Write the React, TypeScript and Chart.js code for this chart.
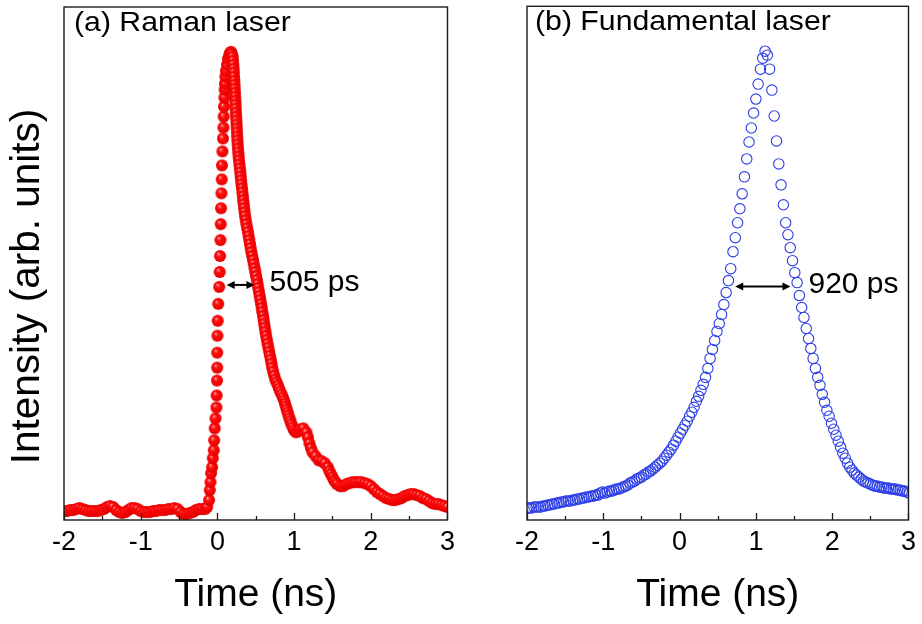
import React, { useEffect, useRef } from "react";
import { Chart, registerables } from "chart.js";

Chart.register(...registerables);

const FONT = "'Liberation Sans', Arial, Helvetica, sans-serif";

// axes
const X_MIN = -2;
const X_MAX = 3;
const Y_MIN = -9;
const Y_MAX = 506;
const majorTicks = [-2, -1, 0, 1, 2, 3];
const minorTicks = [-1.5, -0.5, 0.5, 1.5, 2.5];

// (a) Raman laser — time (ns) and intensity (arb. units)
const ramanBaseTime = [-2.0, -1.96, -1.92, -1.88, -1.84, -1.8, -1.76, -1.72, -1.68, -1.64, -1.6, -1.56, -1.52, -1.48, -1.44, -1.4, -1.36, -1.32, -1.28, -1.24, -1.2, -1.16, -1.12, -1.08, -1.04, -1.0, -0.96, -0.92, -0.88, -0.84, -0.8, -0.76, -0.72, -0.68, -0.64, -0.6, -0.56, -0.52, -0.48, -0.44, -0.4, -0.36, -0.32, -0.28, -0.24, -0.2, -0.16];
const ramanBaseInt = [0, 0, 1, 1, 2, 3, 2, 1, 0, 0, 0, 0, 1, 2, 4, 5, 4, 1, -1, -2, -1, 1, 3, 3, 2, 0, -1, -1, -1, 0, 0, 1, 1, 1, 2, 2, 3, 2, -1, -3, -3, -2, -1, 1, 2, 2, 2];

const ramanRiseTime = [-0.134, -0.108, -0.099, -0.09, -0.082, -0.069, -0.06, -0.047, -0.042, -0.035, -0.025, -0.013, -0.01, -0.005, -0.003, -0.002, 0.0, 0.004, 0.011, 0.024, 0.03, 0.034, 0.039, 0.043, 0.047, 0.052, 0.056, 0.06, 0.065, 0.073, 0.078, 0.082, 0.086, 0.091, 0.095, 0.099, 0.104, 0.112, 0.125, 0.137, 0.156, 0.166, 0.178, 0.188];
const ramanRiseInt = [4, 11, 21, 29, 38, 44, 53, 61, 71, 83, 93, 104, 116, 131, 144, 159, 176, 191, 208, 225, 240, 256, 272, 288, 304, 319, 333, 347, 361, 374, 385, 396, 406, 415, 423, 429, 436, 442, 448, 454, 458, 460, 461, 459];

const ramanFallTime = [0.198, 0.203, 0.207, 0.211, 0.214, 0.216, 0.22, 0.223, 0.225, 0.229, 0.231, 0.234, 0.236, 0.238, 0.241, 0.244, 0.247, 0.25, 0.253, 0.255, 0.258, 0.261, 0.264, 0.268, 0.272, 0.276, 0.281, 0.287, 0.293, 0.298, 0.303, 0.308, 0.313, 0.32, 0.325, 0.332, 0.337, 0.343, 0.348, 0.355, 0.361, 0.369, 0.378, 0.387, 0.398, 0.407, 0.416, 0.425, 0.434, 0.443, 0.453, 0.464, 0.474, 0.484, 0.495, 0.504, 0.514, 0.523, 0.532, 0.541, 0.551, 0.56, 0.569, 0.578, 0.585, 0.595, 0.602, 0.61, 0.618, 0.626, 0.635, 0.644, 0.654, 0.664, 0.675, 0.685, 0.696, 0.705, 0.714, 0.727, 0.741, 0.755, 0.772, 0.789, 0.803, 0.82, 0.837, 0.854, 0.869, 0.881, 0.892, 0.904, 0.916, 0.927, 0.94, 0.953, 0.966, 0.982, 0.999, 1.025];
const ramanFallInt = [456, 452, 448, 444, 440, 436, 432, 428, 424, 420, 416, 412, 408, 404, 400, 396, 392, 388, 384, 380, 376, 372, 368, 364, 360, 356, 352, 348, 344, 340, 336, 332, 328, 324, 320, 316, 312, 308, 304, 300, 296, 292, 288, 284, 280, 276, 272, 268, 264, 260, 256, 252, 248, 244, 240, 236, 232, 228, 224, 220, 216, 212, 208, 204, 200, 196, 192, 188, 184, 180, 176, 172, 168, 164, 160, 156, 152, 148, 144, 140, 136, 132, 129, 126, 123, 120, 117, 114, 111, 108, 105, 102, 99, 96, 93, 90, 87, 84, 81, 79];

const ramanTailTime = [1.051, 1.08, 1.12, 1.16, 1.18, 1.2, 1.22, 1.24, 1.28, 1.32, 1.36, 1.4, 1.44, 1.46, 1.48, 1.5, 1.52, 1.54, 1.56, 1.6, 1.64, 1.68, 1.72, 1.76, 1.8, 1.84, 1.88, 1.92, 1.96, 2.0, 2.04, 2.08, 2.12, 2.16, 2.2, 2.24, 2.28, 2.32, 2.36, 2.4, 2.44, 2.48, 2.52, 2.56, 2.6, 2.64, 2.68, 2.72, 2.76, 2.8, 2.84, 2.88, 2.92, 2.96, 3.0, 3.04];
const ramanTailInt = [80, 82, 83, 79, 74, 68, 63, 59, 55, 51, 50, 48, 44, 40, 37, 34, 31, 29, 27, 25, 25, 27, 28, 29, 29, 29, 29, 28, 27, 25, 22, 19, 17, 15, 13, 12, 11, 11, 12, 13, 15, 16, 17, 17, 16, 15, 13, 12, 10, 8, 7, 7, 6, 5, 4, 3];

// (b) Fundamental laser — sampled every 0.03 ns from -2 ns
const fundStart = -2;
const fundStep = 0.03;
const fundInt = [
  3, 3, 3, 4, 4, 4, 4, 5, 5, 6,
  6, 7, 7, 8, 8, 9, 9, 10, 10, 10,
  11, 11, 12, 12, 13, 13, 14, 14, 15, 15,
  16, 16, 18, 19, 18, 19, 20, 20, 21, 22,
  22, 23, 24, 25, 26, 28, 29, 30, 32, 33,
  34, 36, 37, 39, 40, 42, 44, 46, 48, 50,
  53, 56, 59, 62, 66, 70, 74, 78, 82, 86,
  90, 95, 99, 104, 110, 115, 121, 127, 134, 143,
  153, 162, 171, 180, 188, 197, 207, 219, 231, 243,
  260, 274, 289, 303, 318, 335, 353, 370, 384, 399,
  413, 428, 443, 454, 461, 457, 443, 422, 396, 371,
  348, 327, 307, 289, 277, 264, 251, 239, 229, 216,
  204, 194, 183, 173, 163, 153, 143, 134, 126, 117,
  109, 101, 95, 88, 82, 76, 70, 64, 58, 53,
  48, 44, 41, 38, 36, 34, 32, 30, 29, 28,
  27, 26, 25, 25, 24, 24, 23, 23, 23, 22,
  22, 22, 21, 21, 20, 20, 19, 18,
];

// annotations (FWHM arrows), in data units
const ramanArrow = { from: 0.121, to: 0.483, level: 227, text: "505 ps" };
const fundArrow = { from: 0.729, to: 1.453, level: 225, text: "920 ps" };
const ramanLabel = "(a) Raman laser";
const fundLabel = "(b) Fundamental laser";
const xTitle = "Time (ns)";
const yTitle = "Intensity (arb. units)";

function makeBall(): HTMLCanvasElement {
  const c = document.createElement("canvas");
  c.width = 14;
  c.height = 14;
  const g = c.getContext("2d")!;
  const grad = g.createRadialGradient(5.2, 4.8, 0.2, 7, 7, 6.4);
  grad.addColorStop(0, "#ffd6d6");
  grad.addColorStop(0.12, "#ff6060");
  grad.addColorStop(0.35, "#ff0e0e");
  grad.addColorStop(0.8, "#f00000");
  grad.addColorStop(1, "#cc0000");
  g.fillStyle = grad;
  g.beginPath();
  g.arc(7, 7, 6.0, 0, Math.PI * 2);
  g.fill();
  return c;
}

function drawStretched(ctx: CanvasRenderingContext2D, text: string, x: number, y: number, sx: number) {
  ctx.save();
  ctx.translate(x, y);
  ctx.scale(sx, 1);
  ctx.fillText(text, 0, 0);
  ctx.restore();
}

const decorPlugin = {
  id: "decor",
  afterDraw(chart: any, _args: any, opts: any) {
    const { ctx, chartArea: a, scales } = chart;
    const xs = scales.x;
    const ys = scales.y;
    ctx.save();
    // frame
    ctx.strokeStyle = "#1c1c1c";
    ctx.lineWidth = 1.4;
    ctx.strokeRect(a.left, a.top, a.right - a.left, a.bottom - a.top);
    // inward ticks
    ctx.beginPath();
    majorTicks.forEach((t) => {
      const p = Math.round(xs.getPixelForValue(t)) + 0.5;
      ctx.moveTo(p, a.bottom);
      ctx.lineTo(p, a.bottom - 7);
    });
    minorTicks.forEach((t) => {
      const p = Math.round(xs.getPixelForValue(t)) + 0.5;
      ctx.moveTo(p, a.bottom);
      ctx.lineTo(p, a.bottom - 4);
    });
    ctx.lineWidth = 1.3;
    ctx.stroke();
    // panel label
    ctx.fillStyle = "#000";
    ctx.font = `28px ${FONT}`;
    ctx.textAlign = "left";
    ctx.textBaseline = "alphabetic";
    drawStretched(ctx, opts.label, a.left + opts.labelDx, a.top + 24, 1.08);
    // arrow
    const arr = opts.arrow;
    const yA = ys.getPixelForValue(arr.level);
    const x1 = xs.getPixelForValue(arr.from);
    const x2 = xs.getPixelForValue(arr.to);
    const hl = 8;
    const hw = 4;
    ctx.strokeStyle = "#000";
    ctx.lineWidth = 2;
    ctx.beginPath();
    ctx.moveTo(x1 + hl - 1, yA);
    ctx.lineTo(x2 - hl + 1, yA);
    ctx.stroke();
    ctx.beginPath();
    ctx.moveTo(x1, yA);
    ctx.lineTo(x1 + hl, yA - hw);
    ctx.lineTo(x1 + hl, yA + hw);
    ctx.closePath();
    ctx.moveTo(x2, yA);
    ctx.lineTo(x2 - hl, yA - hw);
    ctx.lineTo(x2 - hl, yA + hw);
    ctx.closePath();
    ctx.fill();
    ctx.font = `30px ${FONT}`;
    ctx.fillText(arr.text, x2 + opts.textGap, yA + 6);
    // y title
    if (opts.yTitle) {
      ctx.translate(a.left - 36, (a.top + a.bottom) / 2 + 23);
      ctx.rotate(-Math.PI / 2);
      ctx.font = `40.5px ${FONT}`;
      ctx.textAlign = "center";
      ctx.textBaseline = "middle";
      ctx.fillText(opts.yTitle, 0, 0);
    }
    ctx.restore();
  },
};

function buildOptions(yWidth: number, rightPad: number, decor: any) {
  return {
    responsive: false,
    animation: false as const,
    events: [] as any[],
    layout: { padding: { top: 5, right: rightPad, left: 0, bottom: 0 } },
    plugins: {
      legend: { display: false },
      tooltip: { enabled: false },
      decor,
    },
    scales: {
      x: {
        type: "linear" as const,
        position: "bottom" as const,
        min: X_MIN,
        max: X_MAX,
        grid: { display: false, drawTicks: false, tickLength: 0 },
        border: { display: false },
        ticks: {
          stepSize: 1,
          color: "#000",
          padding: 6,
          maxRotation: 0,
          font: { family: FONT, size: 27 },
        },
        title: {
          display: true,
          text: xTitle,
          color: "#000",
          font: { family: FONT, size: 39 },
          padding: { top: 0, bottom: 5 },
        },
        afterFit: (s: any) => {
          s.height = 104;
        },
      },
      y: {
        type: "linear" as const,
        min: Y_MIN,
        max: Y_MAX,
        grid: { display: false, drawTicks: false },
        border: { display: false },
        ticks: { display: false },
        afterFit: (s: any) => {
          s.width = yWidth;
        },
      },
    },
  };
}

export default function App() {
  const leftRef = useRef<HTMLCanvasElement>(null);
  const rightRef = useRef<HTMLCanvasElement>(null);

  useEffect(() => {
    const ball = makeBall();
    const ramanTime = [...ramanBaseTime, ...ramanRiseTime, ...ramanFallTime, ...ramanTailTime];
    const ramanInt = [...ramanBaseInt, ...ramanRiseInt, ...ramanFallInt, ...ramanTailInt];
    const ramanData = ramanTime.map((t, i) => ({ x: t, y: ramanInt[i] }));
    const fundData = fundInt.map((v, i) => ({ x: +(fundStart + i * fundStep).toFixed(3), y: v }));

    const c1 = new Chart(leftRef.current!, {
      type: "scatter",
      data: {
        datasets: [
          {
            data: ramanData,
            pointStyle: ball as any,
            pointRadius: 6,
            showLine: false,
            clip: 0,
          } as any,
        ],
      },
      options: buildOptions(64, 10, {
        label: ramanLabel,
        labelDx: 10,
        arrow: ramanArrow,
        textGap: 15,
        yTitle,
      }) as any,
      plugins: [decorPlugin],
    });

    const c2 = new Chart(rightRef.current!, {
      type: "scatter",
      data: {
        datasets: [
          {
            data: fundData,
            pointStyle: "circle",
            pointRadius: 5.2,
            pointBorderWidth: 1.1,
            pointBorderColor: "#2b3de6",
            pointBackgroundColor: "rgba(255,255,255,0)",
            showLine: false,
            clip: 0,
          } as any,
        ],
      },
      options: buildOptions(66, 9, {
        label: fundLabel,
        labelDx: 8,
        arrow: fundArrow,
        textGap: 18,
        yTitle: null,
      }) as any,
      plugins: [decorPlugin],
    });

    return () => {
      c1.destroy();
      c2.destroy();
    };
  }, []);

  return (
    <div style={{ position: "absolute", left: 0, top: 0, width: 922, height: 624, background: "#fff" }}>
      <canvas ref={leftRef} width={461} height={624} style={{ position: "absolute", left: 0, top: 0 }} />
      <canvas ref={rightRef} width={461} height={624} style={{ position: "absolute", left: 461, top: 0 }} />
    </div>
  );
}
